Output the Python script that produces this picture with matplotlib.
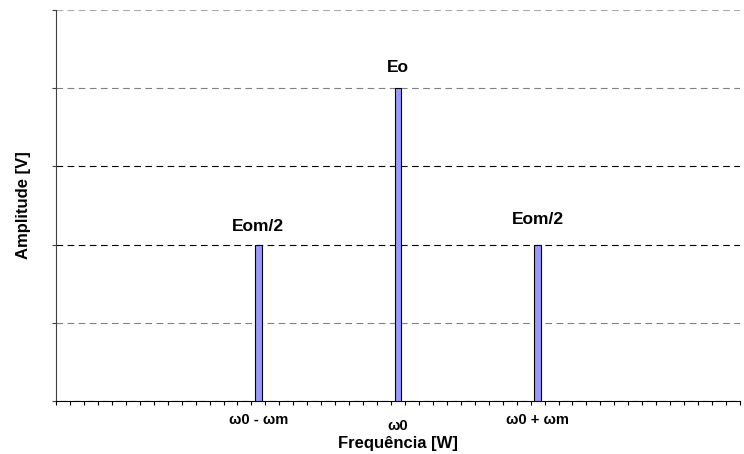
import matplotlib.pyplot as plt
import matplotlib.transforms as mtransforms
import numpy as np

plt.rcParams['font.family'] = ['Liberation Sans', 'DejaVu Sans']

# 49 frequency bins, only three carry a component
n_bins = 49
positions = [14, 24, 34]
amplitudes = [2, 4, 2]
bar_labels = ['Eom/2', 'Eo', 'Eom/2']
tick_labels = ['\u03c90 - \u03c9m', '\u03c90', '\u03c90 + \u03c9m']

values = np.zeros(n_bins)
values[positions] = amplitudes

fig = plt.figure(figsize=(7.44, 4.54), dpi=100)
ax = fig.add_axes([56/744, 53/454, 684/744, 391/454])

x = np.arange(n_bins)
ax.bar(x, values, 0.45, color='#9999ff', edgecolor='black', linewidth=0.8, zorder=3)

label_dy = [0.14, 0.17, 0.23]
for p, a, lab, dy in zip(positions, amplitudes, bar_labels, label_dy):
    ax.text(p, a + dy, lab, ha='center', va='bottom', fontsize=12.5, fontweight='bold')

ax.set_xlim(-0.5, n_bins - 0.5)
ax.set_ylim(0, 5)

# gridlines, Excel style
grid_cols = {1: '#808080', 2: 'black', 3: 'black', 4: '#808080', 5: '#a8a8a8'}
for yv, c in grid_cols.items():
    ax.axhline(yv, color=c, linestyle=(0, (6, 4)), linewidth=0.8, zorder=1)

ax.set_yticks(np.arange(0, 6))
ax.set_yticklabels([])
ax.tick_params(axis='y', length=3, width=0.8, direction='out', color='#404040')

ax.set_xticks(np.arange(-0.5, n_bins, 1.0), minor=True)
ax.set_xticks(positions)
ax.set_xticklabels(tick_labels, fontsize=10.5, fontweight='bold')
ax.tick_params(axis='x', which='major', length=0, pad=9)
ax.tick_params(axis='x', which='minor', length=3, width=0.8, direction='out')
# middle label sits a little lower in the original
mid = ax.get_xticklabels()[1]
mid.set_transform(mid.get_transform() +
                  mtransforms.ScaledTranslation(0, -5/100, fig.dpi_scale_trans))

ax.spines['top'].set_visible(False)
ax.spines['right'].set_visible(False)
ax.spines['left'].set_color('#404040')

ax.set_ylabel('Amplitude [V]', fontsize=12, fontweight='bold')
ax.yaxis.set_label_coords(-25/684, 0.5)
ax.set_xlabel('Frequência [W]', fontsize=12, fontweight='bold')
ax.xaxis.set_label_coords(0.5, -35/391)

plt.savefig('out.png', dpi=100)
